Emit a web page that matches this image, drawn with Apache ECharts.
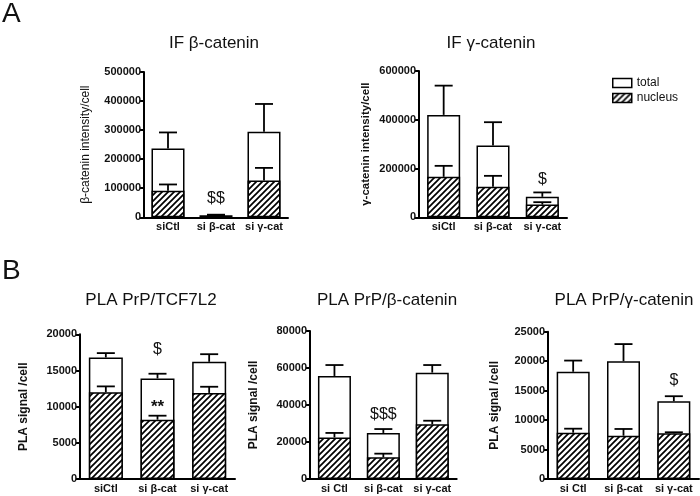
<!DOCTYPE html>
<html>
<head>
<meta charset="utf-8">
<script src="https://cdn.jsdelivr.net/npm/echarts@6/dist/echarts.min.js"></script>
<style>html,body{margin:0;padding:0;background:#fff}#c{width:700px;height:496px}</style>
</head>
<body>
<div id="c"></div>
<script>
// ---- data ----
const catsA = ['siCtl', 'si β-cat', 'si γ-cat'];
const catsB1 = ['siCtl', 'si β-cat', 'si γ-cat'];
const catsB23 = ['si Ctl', 'si β-cat', 'si γ-cat'];

// IF β-catenin
const ifBetaTotal = [237000, 7000, 294000];
const ifBetaTotalSem = [55000, 2000, 96000];
const ifBetaNucleus = [91000, 4000, 127000];
const ifBetaNucleusSem = [22000, 1000, 43000];
const ifBetaSigTotal = ['', '$$', ''];
const ifBetaSigNucleus = ['', '', ''];

// IF γ-catenin
const ifGammaTotal = [420000, 294000, 84000];
const ifGammaTotalSem = [120000, 96000, 18000];
const ifGammaNucleus = [166000, 125000, 52000];
const ifGammaNucleusSem = [45000, 45000, 10000];
const ifGammaSigTotal = ['', '', '$'];
const ifGammaSigNucleus = ['', '', ''];

// PLA PrP/TCF7L2
const plaTcfTotal = [16800, 13900, 16200];
const plaTcfTotalSem = [600, 650, 1050];
const plaTcfNucleus = [12000, 8200, 11900];
const plaTcfNucleusSem = [800, 550, 850];
const plaTcfSigTotal = ['', '$', ''];
const plaTcfSigNucleus = ['', '**', ''];

// PLA PrP/β-catenin
const plaBetaTotal = [55700, 24900, 57500];
const plaBetaTotalSem = [5900, 2100, 4100];
const plaBetaNucleus = [22500, 11700, 29600];
const plaBetaNucleusSem = [2400, 2000, 1900];
const plaBetaSigTotal = ['', '$$$', ''];
const plaBetaSigNucleus = ['', '', ''];

// PLA PrP/γ-catenin
const plaGammaTotal = [18200, 20000, 13200];
const plaGammaTotalSem = [1900, 2900, 850];
const plaGammaNucleus = [7860, 7350, 7760];
const plaGammaNucleusSem = [680, 1140, 170];
const plaGammaSigTotal = ['', '', '$'];
const plaGammaSigNucleus = ['', '', ''];

// ---- rendering ----
const FONT = '"Liberation Sans", Arial, Helvetica, sans-serif';
const INK = '#111';

function hatchPattern() {
  const c = document.createElement('canvas');
  c.width = 6; c.height = 6;
  const g = c.getContext('2d');
  g.fillStyle = '#fff'; g.fillRect(0, 0, 6, 6);
  g.strokeStyle = '#000'; g.lineWidth = 1.7;
  g.beginPath();
  g.moveTo(-1, 7); g.lineTo(7, -1);
  g.moveTo(-1, 1); g.lineTo(1, -1);
  g.moveTo(5, 7); g.lineTo(7, 5);
  g.stroke();
  return c;
}
const HATCH = { image: hatchPattern(), repeat: 'repeat' };

const panels = [
  { cats: catsA, total: ifBetaTotal, totalSem: ifBetaTotalSem, nuc: ifBetaNucleus, nucSem: ifBetaNucleusSem,
    sigT: ifBetaSigTotal, sigN: ifBetaSigNucleus,
    grid: { left: 144, top: 72, width: 144, height: 145.3 }, max: 500000, interval: 100000,
    name: 'β-catenin intensity/cell', nameGap: 52, nameStyle: { fontSize: 12, fontWeight: 'normal' },
    barWidth: 33, sigGapT: 16, sigGapN: 10,
    title: 'IF β-catenin', titleX: 214, titleY: 35 },
  { cats: catsA, total: ifGammaTotal, totalSem: ifGammaTotalSem, nuc: ifGammaNucleus, nucSem: ifGammaNucleusSem,
    sigT: ifGammaSigTotal, sigN: ifGammaSigNucleus,
    grid: { left: 419, top: 71, width: 148, height: 146.3 }, max: 600000, interval: 200000,
    name: 'γ-catenin intensity/cell', nameGap: 47, nameStyle: { fontSize: 11.5, fontWeight: 'bold' },
    barWidth: 33, sigGapT: 13, sigGapN: 10,
    title: 'IF γ-catenin', titleX: 491, titleY: 35 },
  { cats: catsB1, total: plaTcfTotal, totalSem: plaTcfTotalSem, nuc: plaTcfNucleus, nucSem: plaTcfNucleusSem,
    sigT: plaTcfSigTotal, sigN: plaTcfSigNucleus,
    grid: { left: 80, top: 334.3, width: 155, height: 144.7 }, max: 20000, interval: 5000,
    name: 'PLA signal /cell', nameGap: 50, nameStyle: { fontSize: 12, fontWeight: 'bold' },
    barWidth: 34, sigGapT: 24, sigGapN: 8,
    title: 'PLA PrP/TCF7L2', titleX: 151, titleY: 292 },
  { cats: catsB23, total: plaBetaTotal, totalSem: plaBetaTotalSem, nuc: plaBetaNucleus, nucSem: plaBetaNucleusSem,
    sigT: plaBetaSigTotal, sigN: plaBetaSigNucleus,
    grid: { left: 310, top: 331, width: 146.7, height: 148 }, max: 80000, interval: 20000,
    name: 'PLA signal /cell', nameGap: 50, nameStyle: { fontSize: 12, fontWeight: 'bold' },
    barWidth: 33, sigGapT: 14, sigGapN: 8,
    title: 'PLA PrP/β-catenin', titleX: 387, titleY: 292 },
  { cats: catsB23, total: plaGammaTotal, totalSem: plaGammaTotalSem, nuc: plaGammaNucleus, nucSem: plaGammaNucleusSem,
    sigT: plaGammaSigTotal, sigN: plaGammaSigNucleus,
    grid: { left: 548, top: 331.7, width: 151, height: 147.3 }, max: 25000, interval: 5000,
    name: 'PLA signal /cell', nameGap: 47, nameStyle: { fontSize: 12, fontWeight: 'bold' },
    barWidth: 33, sigGapT: 16, sigGapN: 8,
    title: 'PLA PrP/γ-catenin', titleX: 624, titleY: 292 }
];

function errRender(capW) {
  return function (params, api) {
    const j = api.value(0), m = api.value(1), e = api.value(2);
    const p0 = api.coord([j, m]);
    const p1 = api.coord([j, m + e]);
    const h = capW / 2;
    const st = { stroke: '#000', lineWidth: 1.8 };
    return { type: 'group', children: [
      { type: 'line', shape: { x1: p0[0], y1: p0[1], x2: p1[0], y2: p1[1] }, style: st },
      { type: 'line', shape: { x1: p1[0] - h, y1: p1[1], x2: p1[0] + h, y2: p1[1] }, style: st }
    ]};
  };
}
function sigRender(texts, gap) {
  return function (params, api) {
    const j = api.value(0);
    const t = texts[j];
    if (!t) return null;
    const p = api.coord([j, api.value(1) + api.value(2)]);
    const bold = t.indexOf('*') >= 0;
    return { type: 'text', x: p[0], y: p[1] - gap,
      style: { text: t, textAlign: 'center', textVerticalAlign: 'middle', fill: INK,
        fontSize: bold ? 17 : 16, fontWeight: bold ? 'bold' : 'normal', fontFamily: FONT } };
  };
}

const grid = [], xAxis = [], yAxis = [], series = [];
const title = [
  { text: 'A', left: 2, top: 0, padding: 0, textStyle: { fontSize: 28, fontWeight: 'normal', color: INK, fontFamily: FONT } },
  { text: 'B', left: 2, top: 257, padding: 0, textStyle: { fontSize: 28, fontWeight: 'normal', color: INK, fontFamily: FONT } }
];

panels.forEach((p, i) => {
  grid.push(Object.assign({ containLabel: false }, p.grid));
  title.push({ text: p.title, left: p.titleX, top: p.titleY, textAlign: 'center', padding: 0,
    textStyle: { fontSize: 17, fontWeight: 'normal', color: INK, fontFamily: FONT } });
  xAxis.push({ type: 'category', gridIndex: i, data: p.cats,
    axisLine: { lineStyle: { color: '#000', width: 2 } }, axisTick: { show: false },
    axisLabel: { color: INK, fontWeight: 'bold', fontSize: 11, margin: 4, interval: 0, fontFamily: FONT } });
  yAxis.push({ type: 'value', gridIndex: i, min: 0, max: p.max, interval: p.interval,
    axisLine: { show: true, lineStyle: { color: '#000', width: 2 } },
    axisTick: { show: true, length: 4, lineStyle: { color: '#000', width: 2 } },
    axisLabel: { color: INK, fontWeight: 'bold', fontSize: 11, margin: 3, fontFamily: FONT,
      formatter: v => String(v) },
    splitLine: { show: false },
    name: p.name, nameLocation: 'middle', nameGap: p.nameGap,
    nameTextStyle: Object.assign({ color: INK, fontFamily: FONT }, p.nameStyle) });
  const totData = p.total.map((v, j) => [j, v, p.totalSem[j]]);
  const nucData = p.nuc.map((v, j) => [j, v, p.nucSem[j]]);
  series.push({ type: 'bar', name: 'total', xAxisIndex: i, yAxisIndex: i, data: p.total,
    barWidth: p.barWidth, barGap: '-100%', z: 2,
    itemStyle: { color: '#fff', borderColor: '#000', borderWidth: 1.5 } });
  series.push({ type: 'custom', name: 'totalErr' + i, xAxisIndex: i, yAxisIndex: i, data: totData,
    encode: { x: 0, y: 1 }, z: 3, renderItem: errRender(18) });
  series.push({ type: 'bar', name: 'nucleus', xAxisIndex: i, yAxisIndex: i, data: p.nuc,
    barWidth: p.barWidth, barGap: '-100%', z: 4,
    itemStyle: { color: HATCH, borderColor: '#000', borderWidth: 1.5 } });
  series.push({ type: 'custom', name: 'nucErr' + i, xAxisIndex: i, yAxisIndex: i, data: nucData,
    encode: { x: 0, y: 1 }, z: 5, renderItem: errRender(18) });
  series.push({ type: 'custom', name: 'sigT' + i, xAxisIndex: i, yAxisIndex: i, data: totData,
    encode: { x: 0, y: 1 }, z: 6, renderItem: sigRender(p.sigT, p.sigGapT) });
  series.push({ type: 'custom', name: 'sigN' + i, xAxisIndex: i, yAxisIndex: i, data: nucData,
    encode: { x: 0, y: 1 }, z: 6, renderItem: sigRender(p.sigN, p.sigGapN) });
});

const chart = echarts.init(document.getElementById('c'), null, { renderer: 'canvas' });
chart.setOption({
  animation: false,
  backgroundColor: '#fff',
  textStyle: { fontFamily: FONT },
  title: title,
  legend: { data: ['total', 'nucleus'], orient: 'vertical', left: 612, top: 77, padding: 0,
    itemWidth: 19, itemHeight: 9, itemGap: 3, icon: 'rect', selectedMode: false,
    itemStyle: { borderColor: '#000', borderWidth: 1.5 },
    textStyle: { fontSize: 12, color: INK, fontFamily: FONT } },
  grid: grid, xAxis: xAxis, yAxis: yAxis, series: series
});
</script>
</body>
</html>
